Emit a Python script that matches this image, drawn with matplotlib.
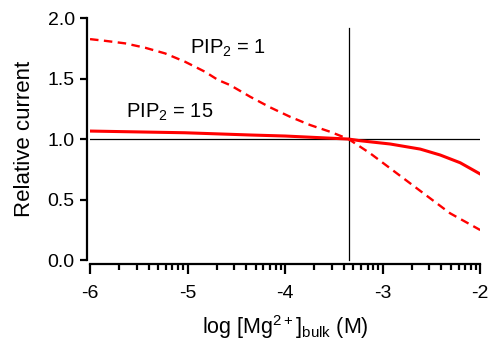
import numpy as np
import matplotlib
matplotlib.use("Agg")
import matplotlib.pyplot as plt
from matplotlib.ticker import FixedLocator

plt.rcParams["font.family"] = ["Liberation Sans", "DejaVu Sans"]
plt.rcParams["mathtext.fontset"] = "custom"
plt.rcParams["mathtext.rm"] = "Liberation Sans"
plt.rcParams["mathtext.it"] = "Liberation Sans:italic"
plt.rcParams["axes.unicode_minus"] = False

# PIP2 = 1 (dashed)
log_mg_pip1 = [-6.0, -5.846, -5.641, -5.436, -5.231, -5.026, -4.821, -4.687, -4.564,
               -4.359, -4.154, -3.949, -3.744, -3.538, -3.35, -3.128, -2.923, -2.718,
               -2.513, -2.308, -2.0]
current_pip1 = [1.826, 1.812, 1.791, 1.755, 1.708, 1.639, 1.556, 1.488, 1.446,
                1.350, 1.262, 1.184, 1.116, 1.060, 1.0, 0.882, 0.758, 0.634,
                0.510, 0.386, 0.248]

# PIP2 = 15 (solid)
log_mg_pip15 = [-6.0, -5.03, -4.34, -4.0, -3.35, -3.23, -2.923, -2.615, -2.41, -2.205, -2.0]
current_pip15 = [1.066, 1.052, 1.033, 1.025, 1.0, 0.986, 0.959, 0.917, 0.868, 0.804, 0.711]

x_ticks = [-6, -5, -4, -3, -2]
y_ticks = [0.0, 0.5, 1.0, 1.5, 2.0]
ref_log_mg = -3.35

fig = plt.figure(figsize=(4.92, 3.41), dpi=100)
ax = fig.add_axes([0.183, 0.2375, 0.793, 0.7095])

ax.axhline(1.0, color="black", lw=0.9, zorder=1)
ax.plot([ref_log_mg, ref_log_mg], [0, 1.92], color="black", lw=0.9, zorder=1, clip_on=False)

ax.plot(log_mg_pip1, current_pip1, color="#ff0000", lw=1.7, ls=(0, (3.6, 2.3)), zorder=3)
ax.plot(log_mg_pip15, current_pip15, color="#ff0000", lw=2.2, zorder=3)

ax.text(-4.98, 1.75, "PIP$_2$ = 1", fontsize=14.5, va="center", ha="left")
ax.text(-5.63, 1.22, "PIP$_2$ = 15", fontsize=14.5, va="center", ha="left")

ax.set_xlim(-6, -2)
ax.set_ylim(0, 2)
ax.set_xticks(x_ticks)
ax.set_xticklabels([str(t) for t in x_ticks])
ax.set_yticks(y_ticks)
ax.set_yticklabels([f"{t:.1f}" for t in y_ticks])

minor = [d + np.log10(k) for d in range(-6, -2) for k in range(2, 10)]
ax.xaxis.set_minor_locator(FixedLocator(minor))

for side in ["top", "right"]:
    ax.spines[side].set_visible(False)
ax.spines["left"].set_position(("outward", 2.5))
ax.spines["bottom"].set_position(("outward", 3))
ax.spines["left"].set_linewidth(1.6)
ax.spines["bottom"].set_linewidth(1.6)

ax.tick_params(axis="both", which="major", labelsize=14, width=1.6, length=5, direction="out")
ax.tick_params(axis="x", which="major", length=7, pad=8)
ax.tick_params(axis="x", which="minor", width=1.6, length=4, direction="out")

ax.set_xlabel("log [Mg$^{2+}$]$_{\\mathrm{bulk}}$ (M)", fontsize=15.5, labelpad=8)
ax.set_ylabel("Relative current", fontsize=16, labelpad=9)

fig.savefig("out.png", dpi=100)
